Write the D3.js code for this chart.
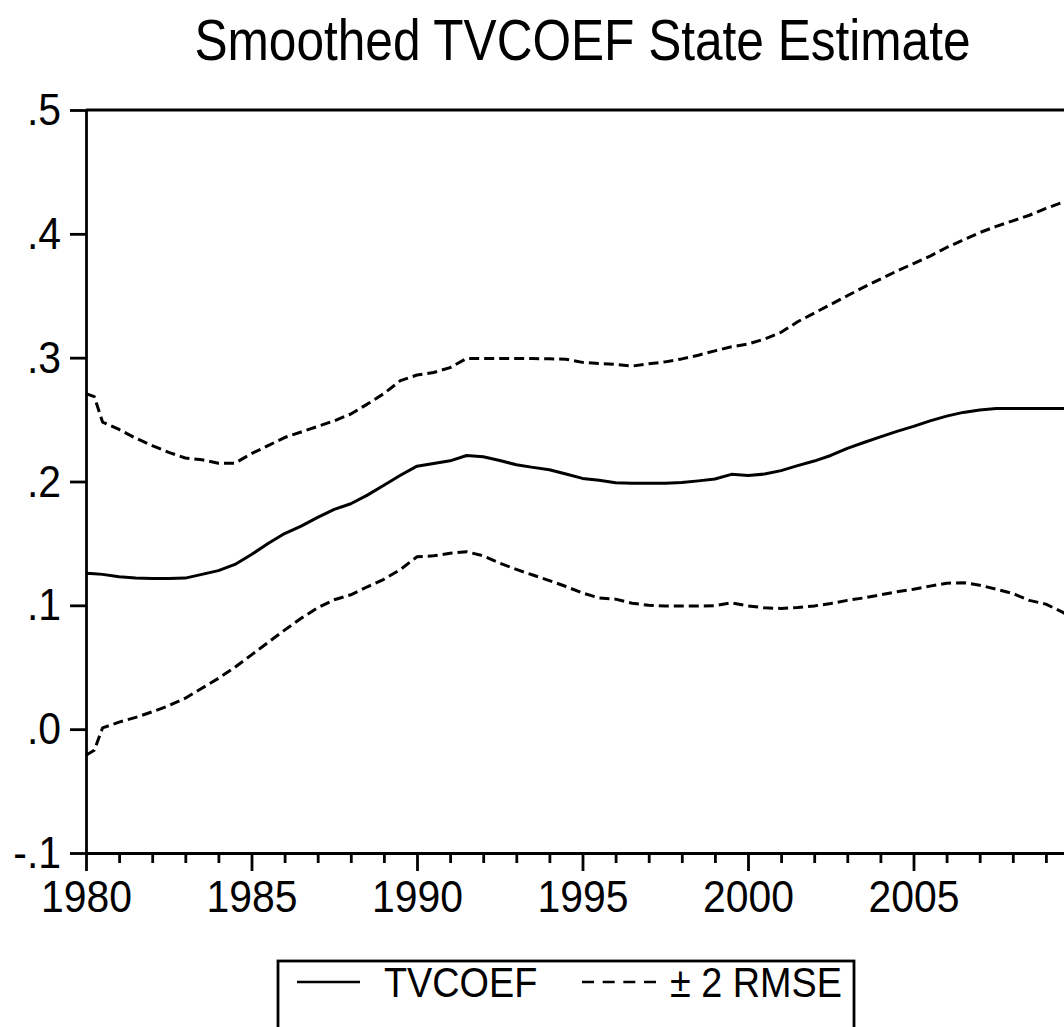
<!DOCTYPE html>
<html>
<head>
<meta charset="utf-8">
<script src="https://cdn.jsdelivr.net/npm/d3@7"></script>
<style>
  html, body { margin: 0; padding: 0; background: #fff; }
  svg { display: block; }
  text { font-family: "Liberation Sans", Arial, sans-serif; fill: #000; }
</style>
</head>
<body>
<svg id="chart" width="1064" height="1027"></svg>
<script>
const title = "Smoothed TVCOEF State Estimate";
const dates = [1980.0, 1980.25, 1980.5, 1981.0, 1981.5, 1982.0, 1982.5, 1983.0, 1983.5, 1984.0, 1984.5,
  1985.0, 1985.5, 1986.0, 1986.5, 1987.0, 1987.5, 1988.0, 1988.5, 1989.0, 1989.5,
  1990.0, 1990.5, 1991.0, 1991.5, 1992.0, 1992.5, 1993.0, 1993.5, 1994.0, 1994.5,
  1995.0, 1995.5, 1996.0, 1996.5, 1997.0, 1997.5, 1998.0, 1998.5, 1999.0, 1999.5,
  2000.0, 2000.5, 2001.0, 2001.5, 2002.0, 2002.5, 2003.0, 2003.5, 2004.0, 2004.5,
  2005.0, 2005.5, 2006.0, 2006.5, 2007.0, 2007.5, 2008.0, 2008.5, 2009.0, 2009.5, 2009.75];
const tvcoef = [0.126, 0.1255, 0.125, 0.123, 0.122, 0.1217, 0.1217, 0.122, 0.125, 0.128, 0.133,
  0.141, 0.150, 0.158, 0.164, 0.171, 0.1775, 0.182, 0.189, 0.197, 0.205,
  0.2124, 0.2145, 0.2167, 0.221, 0.220, 0.217, 0.2135, 0.2114, 0.2095, 0.206,
  0.2025, 0.201, 0.199, 0.1985, 0.1985, 0.1985, 0.1992, 0.2005, 0.202, 0.2058,
  0.2048, 0.206, 0.2088, 0.2128, 0.2165, 0.221, 0.2268, 0.2315, 0.236, 0.2405,
  0.2445, 0.249, 0.2528, 0.2558, 0.2578, 0.2589, 0.259, 0.259, 0.259, 0.259, 0.259];
const upper = [0.271, 0.2685, 0.248, 0.242, 0.235, 0.229, 0.2235, 0.219, 0.2175, 0.2148, 0.2148,
  0.2225, 0.229, 0.2355, 0.240, 0.2445, 0.249, 0.2545, 0.2625, 0.271, 0.2815,
  0.286, 0.288, 0.292, 0.2994, 0.2994, 0.2994, 0.2994, 0.2993, 0.2991, 0.2988,
  0.2962, 0.2952, 0.2946, 0.2932, 0.295, 0.2966, 0.299, 0.302, 0.3055, 0.3088,
  0.311, 0.315, 0.3205, 0.329, 0.336, 0.343, 0.350, 0.357, 0.3635, 0.370,
  0.376, 0.382, 0.389, 0.395, 0.401, 0.406, 0.4105, 0.415, 0.4205, 0.4255, 0.428];
const lower = [-0.021, -0.017, 0.001, 0.0057, 0.0095, 0.014, 0.019, 0.025, 0.033, 0.041, 0.050,
  0.060, 0.070, 0.080, 0.0895, 0.098, 0.1045, 0.1085, 0.115, 0.121, 0.129,
  0.1392, 0.140, 0.142, 0.1433, 0.140, 0.134, 0.129, 0.1245, 0.120, 0.1152,
  0.110, 0.106, 0.105, 0.1017, 0.100, 0.0994, 0.0994, 0.0994, 0.0997, 0.102,
  0.0995, 0.098, 0.0975, 0.0983, 0.0995, 0.1015, 0.104, 0.106, 0.1085, 0.111,
  0.113, 0.1155, 0.1178, 0.1183, 0.1163, 0.113, 0.1096, 0.104, 0.101, 0.0945, 0.091];
const yTickValues = [-0.1, 0.0, 0.1, 0.2, 0.3, 0.4, 0.5];
const yTickLabels = ["-.1", ".0", ".1", ".2", ".3", ".4", ".5"];
const xTickYears = d3.range(1980, 2010);
const xLabelYears = [1980, 1985, 1990, 1995, 2000, 2005];
const legendLabels = ["TVCOEF", "\u00B1 2 RMSE"];

const svg = d3.select("#chart");
const L = 86, R = 1079, T = 110, B = 853;
const x = d3.scaleLinear().domain([1980, 2010]).range([L, R]);
const y = d3.scaleLinear().domain([-0.1, 0.5]).range([B, T]);
const tickFont = 44, tickScale = 0.93;

// title
svg.append("text")
  .attr("transform", `translate(${(L + R) / 2},60) scale(0.87,1)`)
  .attr("text-anchor", "middle")
  .style("font-size", "57px")
  .text(title);

// series
const line = d3.line().x(d => x(d[0])).y(d => y(d[1]));
const mk = arr => dates.map((d, i) => [d, arr[i]]);
const series = [
  { vals: upper, dash: "10,5" },
  { vals: lower, dash: "10,5" },
  { vals: tvcoef, dash: null }
];
series.forEach(s => {
  svg.append("path")
    .attr("d", line(mk(s.vals)))
    .attr("fill", "none")
    .attr("stroke", "#000")
    .attr("stroke-width", 3)
    .attr("stroke-linejoin", "round")
    .attr("stroke-dasharray", s.dash);
});

// frame top / right
svg.append("line").attr("x1", L).attr("x2", R).attr("y1", T).attr("y2", T)
  .attr("stroke", "#000").attr("stroke-width", 2.8);
svg.append("line").attr("x1", R).attr("x2", R).attr("y1", T).attr("y2", B)
  .attr("stroke", "#000").attr("stroke-width", 2.8);

// y axis
const yAxis = d3.axisLeft(y).tickValues(yTickValues)
  .tickFormat((d, i) => yTickLabels[i]).tickSize(16).tickSizeOuter(0);
const gy = svg.append("g").attr("transform", `translate(${L},0)`).call(yAxis);
gy.select(".domain").attr("stroke", "#000").attr("stroke-width", 2.8);
gy.selectAll(".tick line").attr("stroke", "#000").attr("stroke-width", 2.8);
gy.selectAll(".tick text")
  .attr("x", -25 / tickScale).attr("dy", "0.33em")
  .attr("transform", `scale(${tickScale},1)`)
  .style("font-size", tickFont + "px").attr("font-family", null);

// x axis
const xAxis = d3.axisBottom(x).tickValues(xTickYears)
  .tickFormat(d => xLabelYears.includes(d) ? String(d) : "").tickSize(10).tickSizeOuter(0);
const gx = svg.append("g").attr("transform", `translate(0,${B})`).call(xAxis);
gx.select(".domain").attr("stroke", "#000").attr("stroke-width", 2.8);
gx.selectAll(".tick line").attr("stroke", "#000").attr("stroke-width", 2.8)
  .attr("y2", d => d % 5 === 0 ? 18 : 10);
gx.selectAll(".tick text").attr("y", 59).attr("dy", 0)
  .attr("transform", `scale(${tickScale},1)`)
  .style("font-size", tickFont + "px").attr("font-family", null);

// legend
const legFont = 42, legScale = 0.9;
const lg = svg.append("g");
lg.append("rect").attr("x", 278).attr("y", 961).attr("width", 576).attr("height", 120)
  .attr("fill", "#fff").attr("stroke", "#000").attr("stroke-width", 2.8);
lg.append("line").attr("x1", 297).attr("x2", 360).attr("y1", 982).attr("y2", 982)
  .attr("stroke", "#000").attr("stroke-width", 2.6);
lg.append("text").attr("transform", `translate(384,997) scale(${legScale},1)`)
  .style("font-size", legFont + "px").text(legendLabels[0]);
lg.append("line").attr("x1", 582).attr("x2", 656).attr("y1", 982).attr("y2", 982)
  .attr("stroke", "#000").attr("stroke-width", 2.6).attr("stroke-dasharray", "12,8.67");
lg.append("text").attr("transform", `translate(670,997) scale(${legScale},1)`)
  .style("font-size", legFont + "px").text(legendLabels[1]);
</script>
</body>
</html>
